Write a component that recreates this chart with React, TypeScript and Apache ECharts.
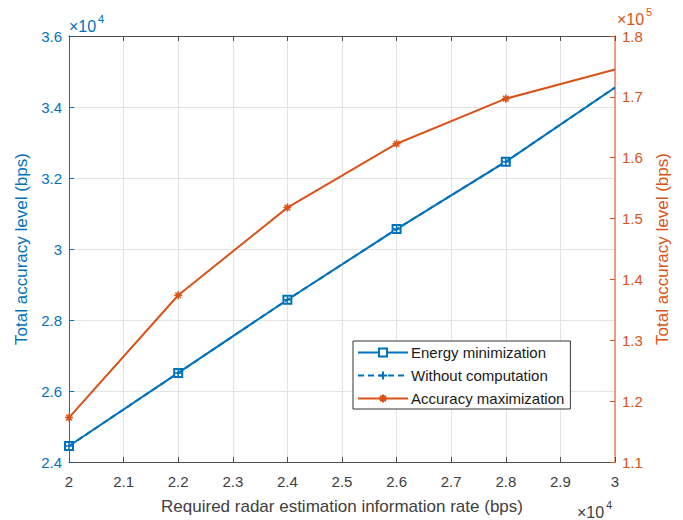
import React, { useEffect, useRef } from "react";
import * as echarts from "echarts";

const xValues = [2, 2.2, 2.4, 2.6, 2.8, 3];
const energyMin = [2.445, 2.651, 2.857, 3.056, 3.246, 3.455];
const withoutComp = [2.445, 2.651, 2.857, 3.056, 3.246, 3.455];
const accuracyMax = [1.173, 1.374, 1.518, 1.623, 1.697, 1.745];
const seriesNames = ["Energy minimization", "Without computation", "Accuracy maximization"];

const BLUE = "#0072BD";
const RED = "#D95319";
const FONT = "Liberation Sans, Arial, sans-serif";

const fmt = (v: number) => String(+v.toFixed(1));

function pts(vals: number[]) {
  return xValues.map((x, i) => {
    const p: any = { value: [x, vals[i]] };
    if (i === xValues.length - 1) p.symbol = "none";
    return p;
  });
}

function expTitles(x: number, top: number, exp: string, color: string) {
  return [
    {
      text: "×10",
      left: x,
      top,
      padding: 0,
      textStyle: { fontFamily: FONT, fontSize: 16, fontWeight: "normal", color },
    },
    {
      text: exp,
      left: x + 29,
      top: top - 5,
      padding: 0,
      textStyle: { fontFamily: FONT, fontSize: 11, fontWeight: "normal", color },
    },
  ];
}

export default function App() {
  const ref = useRef<HTMLDivElement>(null);
  useEffect(() => {
    const chart = echarts.init(ref.current!, undefined, { renderer: "svg" });
    const axisLabelBase = { fontFamily: FONT, fontSize: 15 };
    chart.setOption({
      animation: false,
      backgroundColor: "#ffffff",
      title: [
        ...expTitles(69, 18, "4", BLUE),
        ...expTitles(617, 11, "5", RED),
        ...expTitles(577, 504, "4", "#404040"),
      ],
      grid: { left: 69, right: 68, top: 36, bottom: 54 },
      legend: {
        data: seriesNames,
        orient: "vertical",
        left: 353,
        top: 341,
        itemWidth: 50,
        itemHeight: 10,
        itemGap: 8,
        padding: [4, 6, 3, 4],
        backgroundColor: "#ffffff",
        borderColor: "#333333",
        borderWidth: 1,
        borderRadius: 0,
        textStyle: { fontFamily: FONT, fontSize: 15, color: "#1a1a1a", padding: [0, 0, 0, -2] },
      },
      xAxis: [
        {
          type: "value",
          min: 2,
          max: 3,
          interval: 0.1,
          name: "Required radar estimation information rate (bps)",
          nameLocation: "middle",
          nameGap: 36,
          nameTextStyle: { fontFamily: FONT, fontSize: 17, color: "#404040" },
          axisLine: { show: true, lineStyle: { color: "#4d4d4d", width: 1 } },
          axisTick: { show: true, inside: true, length: 5, lineStyle: { color: "#4d4d4d" } },
          axisLabel: { ...axisLabelBase, color: "#404040", formatter: fmt, margin: 12 },
          splitLine: { show: true, lineStyle: { color: "#e3e3e3", width: 1 } },
        },
        {
          type: "value",
          min: 2,
          max: 3,
          interval: 0.1,
          position: "top",
          axisLine: { show: true, lineStyle: { color: "#4d4d4d", width: 1 } },
          axisTick: { show: true, inside: true, length: 5, lineStyle: { color: "#4d4d4d" } },
          axisLabel: { show: false },
          splitLine: { show: false },
        },
      ],
      yAxis: [
        {
          type: "value",
          min: 2.4,
          max: 3.6,
          interval: 0.2,
          position: "left",
          name: "Total accuracy level (bps)",
          nameLocation: "middle",
          nameGap: 39,
          nameTextStyle: { fontFamily: FONT, fontSize: 17, color: BLUE },
          axisLine: { show: true, lineStyle: { color: BLUE, width: 1 } },
          axisTick: { show: true, inside: true, length: 5, lineStyle: { color: BLUE } },
          axisLabel: { ...axisLabelBase, color: BLUE, formatter: fmt, margin: 7 },
          splitLine: { show: true, lineStyle: { color: "#e3e3e3", width: 1 } },
        },
        {
          type: "value",
          min: 1.1,
          max: 1.8,
          interval: 0.1,
          position: "right",
          name: "Total accuracy level (bps)",
          nameLocation: "middle",
          nameGap: 39,
          nameRotate: 90,
          nameTextStyle: { fontFamily: FONT, fontSize: 17, color: RED },
          axisLine: { show: true, lineStyle: { color: "#e08563", width: 1.5 } },
          axisTick: { show: true, inside: true, length: 5, lineStyle: { color: RED } },
          axisLabel: { ...axisLabelBase, color: RED, formatter: fmt, margin: 7 },
          splitLine: { show: false },
        },
      ],
      series: [
        {
          name: seriesNames[0],
          type: "line",
          xAxisIndex: 0,
          yAxisIndex: 0,
          data: pts(energyMin),
          symbol: "emptyRect",
          symbolSize: 8,
          lineStyle: { color: BLUE, width: 2 },
          itemStyle: { color: BLUE, borderColor: BLUE, borderWidth: 1.5 },
          z: 3,
        },
        {
          name: seriesNames[1],
          type: "line",
          xAxisIndex: 0,
          yAxisIndex: 0,
          data: pts(withoutComp),
          symbol: "path://M5,0L5,10M0,5L10,5",
          symbolSize: 7,
          lineStyle: { color: BLUE, width: 2, type: [6, 4] },
          itemStyle: { color: BLUE, borderColor: BLUE, borderWidth: 1.5 },
          z: 4,
        },
        {
          name: seriesNames[2],
          type: "line",
          xAxisIndex: 0,
          yAxisIndex: 1,
          data: pts(accuracyMax),
          symbol: "path://M5,0L5,10M0,5L10,5M1.5,1.5L8.5,8.5M8.5,1.5L1.5,8.5",
          symbolSize: 8,
          lineStyle: { color: RED, width: 2 },
          itemStyle: { color: RED, borderColor: RED, borderWidth: 1.5 },
          z: 5,
        },
      ],
    });
    return () => chart.dispose();
  }, []);
  return <div ref={ref} style={{ width: 683, height: 520, position: "absolute", left: 0, top: 0 }} />;
}
